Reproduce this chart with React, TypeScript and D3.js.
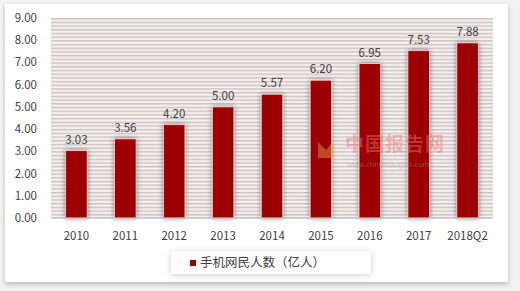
import React from "react";
import * as d3 from "d3";

const categories = ["2010", "2011", "2012", "2013", "2014", "2015", "2016", "2017", "2018Q2"];
const values = [3.03, 3.56, 4.2, 5.0, 5.57, 6.2, 6.95, 7.53, 7.88];
const yTicks = [0, 1, 2, 3, 4, 5, 6, 7, 8, 9];
const seriesName = "手机网民人数（亿人）";

const W = 520, H = 291;
const plot = { left: 51, right: 493, top: 18, bottom: 218 };
const font = "'Noto Sans CJK SC', 'Noto Sans', sans-serif";

export default function App() {
  const x = d3.scaleBand<string>().domain(categories).range([plot.left, plot.right]).paddingInner(0.56).paddingOuter(0.3);
  const y = d3.scaleLinear().domain([0, 9]).range([plot.bottom, plot.top]);
  const barColor = "#9c0000";
  return (
    <svg width={W} height={H} style={{ position: "absolute", left: 0, top: 0, background: "#f2f2f2" }}>
      <defs>
        <pattern id="stripes" patternUnits="userSpaceOnUse" x={0} y={plot.top} width={8} height={3.7}>
          <rect width={8} height={3.7} fill="#f8eeee" />
          <rect y={0} width={8} height={1.4} fill="#c9c4c4" />
        </pattern>
        <filter id="cardShadow" x="-5%" y="-5%" width="110%" height="115%">
          <feDropShadow dx={0} dy={2} stdDeviation={2.5} floodColor="#000" floodOpacity={0.25} />
        </filter>
        <filter id="barShadow" x="-60%" y="-10%" width="220%" height="120%">
          <feDropShadow dx={0} dy={0} stdDeviation={2.5} floodColor="#000" floodOpacity={0.45} />
        </filter>
        <filter id="legShadow" x="-10%" y="-40%" width="120%" height="180%">
          <feDropShadow dx={0} dy={1} stdDeviation={3} floodColor="#000" floodOpacity={0.2} />
        </filter>
      </defs>
      <rect x={5} y={4} width={503} height={278} fill="#ffffff" filter="url(#cardShadow)" />
      <rect x={plot.left} y={plot.top} width={plot.right - plot.left} height={plot.bottom - plot.top} fill="url(#stripes)" />
      {categories.map((c, i) => {
        const bx = x(c)!;
        const by = y(values[i]);
        return (
          <g key={c}>
            <rect x={bx} y={by} width={x.bandwidth()} height={y(0) - by} fill={barColor} stroke="#f3d6d6" strokeWidth={0.8} filter="url(#barShadow)" />
            <text x={bx + x.bandwidth() / 2} y={by - 7} textAnchor="middle" fontSize={11.5} fill="#404040" fontFamily={font}>
              {values[i].toFixed(2)}
            </text>
            <text x={bx + x.bandwidth() / 2} y={240} textAnchor="middle" fontSize={11.5} fill="#404040" fontFamily={font}>
              {c}
            </text>
          </g>
        );
      })}
      <line x1={plot.left} x2={plot.right} y1={y(0)} y2={y(0)} stroke="#a6a6a6" strokeWidth={1} />
      {/* watermark */}
      <g opacity={0.45}>
        <path d="M318,142 L326,150 L334,140 L334,158 L318,158 Z" fill="#f0a050" />
        <text x={345} y={151} fontSize={19} fill="#f07070" fontFamily={font} fontWeight="bold" letterSpacing={1}>中国报告网</text>
        <text x={347} y={167} fontSize={8} fill="#999" fontFamily="Arial, sans-serif">www.chinabaogao.com</text>
      </g>
      {yTicks.map((t) => (
        <text key={t} x={37} y={y(t) + 4} textAnchor="end" fontSize={11.5} fill="#404040" fontFamily={font}>
          {t.toFixed(2)}
        </text>
      ))}
      <g filter="url(#legShadow)">
        <rect x={171} y={251} width={200} height={23} fill="#ffffff" />
      </g>
      <rect x={190} y={260} width={6} height={6} fill={barColor} />
      <text x={200} y={267} fontSize={12.5} fill="#404040" fontFamily={font}>{seriesName}</text>
    </svg>
  );
}
